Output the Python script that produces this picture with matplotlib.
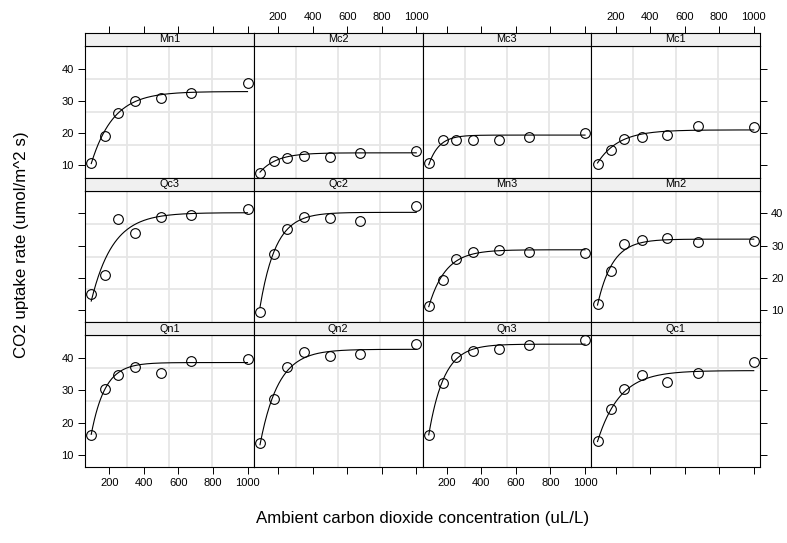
import numpy as np
import matplotlib
matplotlib.use("Agg")
import matplotlib.pyplot as plt

plt.rcParams['font.family'] = ['Liberation Sans', 'DejaVu Sans']

conc = np.array([95, 175, 250, 350, 500, 675, 1000])

# uptake per plant
uptake = {
    'Qn1': [16.0, 30.4, 34.8, 37.2, 35.3, 39.2, 39.7],
    'Qn2': [13.6, 27.3, 37.1, 41.8, 40.6, 41.4, 44.3],
    'Qn3': [16.2, 32.4, 40.3, 42.1, 42.9, 43.9, 45.5],
    'Qc1': [14.2, 24.1, 30.3, 34.6, 32.5, 35.4, 38.7],
    'Qc3': [15.1, 21.0, 38.1, 34.0, 38.9, 39.6, 41.4],
    'Qc2': [9.3, 27.3, 35.0, 38.8, 38.6, 37.5, 42.4],
    'Mn3': [11.3, 19.4, 25.8, 27.9, 28.5, 28.1, 27.8],
    'Mn2': [12.0, 22.0, 30.6, 31.8, 32.4, 31.1, 31.5],
    'Mn1': [10.6, 19.2, 26.2, 30.0, 30.9, 32.4, 35.5],
    'Mc2': [7.7, 11.4, 12.3, 13.0, 12.5, 13.7, 14.4],
    'Mc3': [10.6, 18.0, 17.9, 17.9, 17.9, 18.9, 19.9],
    'Mc1': [10.5, 14.9, 18.1, 18.9, 19.5, 22.2, 21.9],
}

# fitted asymptotic curves per plant: Asym, lrc, c0 (estimated from the chart)
fit_asym = {'Qn1': 38.6, 'Qn2': 42.7, 'Qn3': 44.3, 'Qc1': 36.1, 'Qc3': 40.2, 'Qc2': 40.3,
            'Mn3': 28.7, 'Mn2': 32.0, 'Mn1': 32.9, 'Mc2': 13.9, 'Mc3': 19.4, 'Mc1': 21.0}
fit_lrc = {'Qn1': -4.38, 'Qn2': -4.665, 'Qn3': -4.485, 'Qc1': -4.86, 'Qc3': -4.83, 'Qc2': -4.52,
           'Mn3': -4.59, 'Mn2': -4.465, 'Mn1': -4.86, 'Mc2': -4.6, 'Mc3': -4.1, 'Mc1': -4.82}
fit_c0 = {'Qn1': 51.0, 'Qn2': 56.0, 'Qn3': 54.7, 'Qc1': 31.0, 'Qc3': 47.0, 'Qc2': 66.0,
          'Mn3': 47.0, 'Mn2': 56.0, 'Mn1': 45.0, 'Mc2': 11.0, 'Mc3': 50.0, 'Mc1': 6.0}

# panel layout, top row first
layout = [['Mn1', 'Mc2', 'Mc3', 'Mc1'],
          ['Qc3', 'Qc2', 'Mn3', 'Mn2'],
          ['Qn1', 'Qn2', 'Qn3', 'Qc1']]

xticks = [200, 400, 600, 800, 1000]
yticks = [10, 20, 30, 40]

ys = {k: np.array(v, dtype=float) for k, v in uptake.items()}
allv = np.concatenate(list(ys.values()))
xr = conc.max() - conc.min()
xlim = (conc.min() - 0.04 * xr, conc.max() + 0.04 * xr)
yr = allv.max() - allv.min()
ylim = (allv.min() - 0.04 * yr, allv.max() + 0.04 * yr)

W, H = 787, 543
fig = plt.figure(figsize=(W / 100, H / 100), dpi=100)

left, right = 85, 760
top = 33
strip_h = 13
panel_h = 131.7
pw = (right - left) / 4

for r, row in enumerate(layout):
    for c, name in enumerate(row):
        x0 = left + c * pw
        st = top + r * (strip_h + panel_h)
        pb = st + strip_h + panel_h
        ax = fig.add_axes([x0 / W, 1 - pb / H, pw / W, panel_h / H])
        sax = fig.add_axes([x0 / W, 1 - (st + strip_h) / H, pw / W, strip_h / H])

        y = ys[name]
        a, lrc, c0 = fit_asym[name], fit_lrc[name], fit_c0[name]
        xs = np.linspace(conc.min(), conc.max(), 200)
        ax.plot(xs, a * (1 - np.exp(-np.exp(lrc) * (xs - c0))), color='black', lw=0.8, zorder=3)
        ax.plot(conc, y, 'o', mfc='none', mec='black', ms=7, mew=0.8, zorder=4)

        # grid at quarter points of the limits
        for q in (0.25, 0.5, 0.75):
            ax.axvline(xlim[0] + q * (xlim[1] - xlim[0]), color='#e6e6e6', lw=1.3, zorder=1)
            ax.axhline(ylim[0] + q * (ylim[1] - ylim[0]), color='#e6e6e6', lw=1.3, zorder=1)

        ax.set_xlim(xlim)
        ax.set_ylim(ylim)
        for s in ax.spines.values():
            s.set_linewidth(0.8)

        ax.set_xticks(xticks)
        ax.set_yticks(yticks)
        ax.tick_params(direction='out', length=5, width=0.7, labelsize=8, pad=3,
                       bottom=False, top=False, left=False, right=False,
                       labelbottom=False, labeltop=False, labelleft=False, labelright=False)
        if r == 2:
            ax.tick_params(bottom=True, labelbottom=(c % 2 == 0))
        if c == 0:
            ax.tick_params(left=True, labelleft=(r != 1))
        if c == 3:
            ax.tick_params(right=True, labelright=(r == 1))

        sax.set_facecolor('#f0f0f0')
        sax.set_xlim(xlim)
        sax.set_yticks([])
        for s in sax.spines.values():
            s.set_linewidth(0.8)
        sax.text(0.5, 0.5, name, transform=sax.transAxes, ha='center', va='center', fontsize=7.8)
        if r == 0:
            sax.set_xticks(xticks)
            sax.tick_params(direction='out', length=5, width=0.7, labelsize=8, pad=3,
                            bottom=False, labelbottom=False, top=True, labeltop=(c % 2 == 1))
        else:
            sax.set_xticks([])

fig.text(22 / W, 1 - 245 / H, 'CO2 uptake rate (umol/m^2 s)', rotation=90,
         ha='center', va='center', fontsize=12.2)
fig.text((left + right) / 2 / W, 1 - 518 / H, 'Ambient carbon dioxide concentration (uL/L)',
         ha='center', va='center', fontsize=12.2)

fig.savefig('out.png', dpi=100)
